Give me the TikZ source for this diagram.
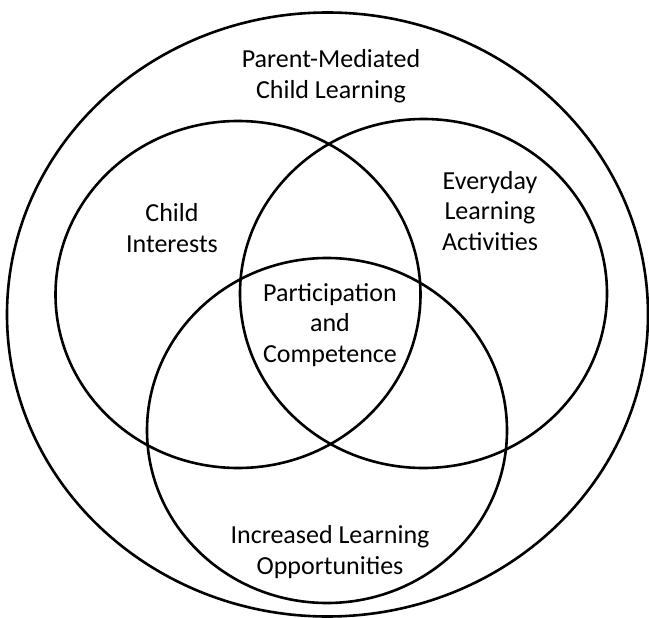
\documentclass[tikz,border=0pt]{standalone}
\usepackage{fontspec}
\setmainfont{Carlito}
\begin{document}
\begin{tikzpicture}[x=1pt,y=-1pt,
  ring/.style={draw=black,line width=2.6pt},
  lbl/.style={align=center,font=\fontsize{26}{30.5}\selectfont,inner sep=0pt}]
\useasboundingbox (0,0) rectangle (649,618);
\draw[ring] (327.5,314.5) ellipse [x radius=320.5, y radius=302];
\draw[ring] (238,294.5) ellipse [x radius=182.5, y radius=173.5];
\draw[ring] (423.5,293.5) ellipse [x radius=183.5, y radius=174.5];
\draw[ring] (327,430.5) ellipse [x radius=180, y radius=172.5];
\node[lbl] (outer) at (331,76) {Parent-Mediated\\Child Learning};
\node[lbl] (interests) at (172,228) {Child\\Interests};
\node[lbl] (everyday) at (490,211) {Everyday\\Learning\\Activities};
\node[lbl] (core) at (330,325) {Participation\\and\\Competence};
\node[lbl] (opps) at (330,552) {Increased Learning\\Opportunities};
\end{tikzpicture}
\end{document}
